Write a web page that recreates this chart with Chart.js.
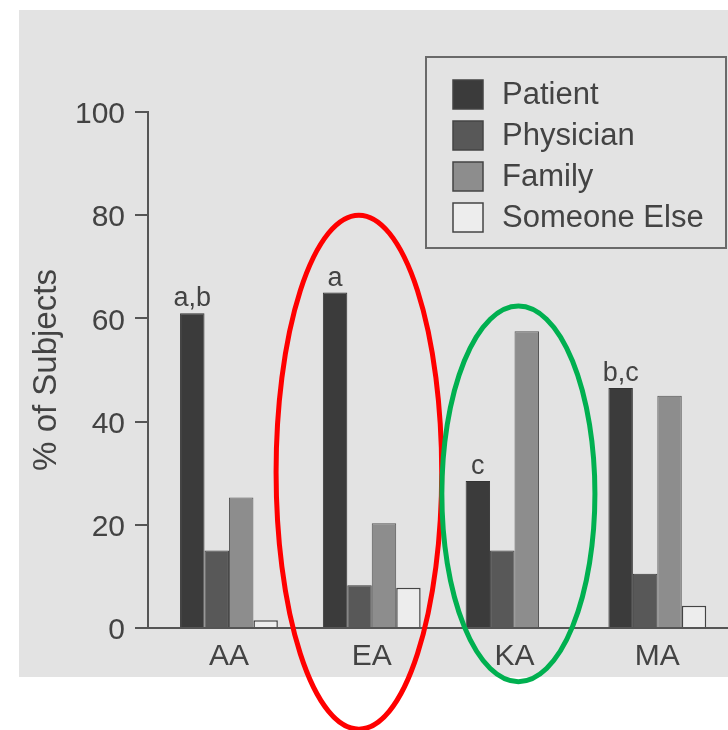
<!DOCTYPE html>
<html>
<head>
<meta charset="utf-8">
<script src="https://cdn.jsdelivr.net/npm/chart.js@4/dist/chart.umd.min.js"></script>
<style>
  html, body { margin: 0; padding: 0; background: #fff; }
  canvas { display: block; }
</style>
</head>
<body>
<canvas id="grafico" width="728" height="730"></canvas>
<script>
// data
var grupos = ["AA", "EA", "KA", "MA"];
var patient = [61, 65, 28.5, 46.5];
var physician = [15, 8.3, 15, 10.5];
var family = [25.3, 20.3, 57.5, 45];
var someoneElse = [1.5, 7.8, 0, 4.3];
var letras = ["a,b", "a", "c", "b,c"];
var yTicks = [0, 20, 40, 60, 80, 100];

var fonte = '"Liberation Sans", Arial, Helvetica, sans-serif';
var corTexto = "#434343";
var corEixo = "#555555";

function pontos(valores) {
    return valores.map(function (v, i) { return { x: i, y: v }; });
}

// highlight ellipses, in axis units (category index / % of subjects)
var elipses = [
    { cat: 1, dx: -0.09, rx: 0.58, yMid: 30.2, ry: 49.8, cor: "#ff0000" },
    { cat: 2, dx: 0.027, rx: 0.536, yMid: 26, ry: 36.4, cor: "#00b050" }
];

var fundo = {
    id: "fundo",
    beforeDraw: function (chart) {
        var ctx = chart.ctx;
        ctx.save();
        ctx.fillStyle = "#ffffff";
        ctx.fillRect(0, 0, chart.width, chart.height);
        ctx.fillStyle = "#e3e3e3";
        ctx.fillRect(19, 10, 709, 667);
        ctx.restore();
    }
};

var letrasPlugin = {
    id: "letras",
    afterDatasetsDraw: function (chart) {
        var ctx = chart.ctx;
        var meta = chart.getDatasetMeta(0);
        ctx.save();
        ctx.font = "27px " + fonte;
        ctx.fillStyle = corTexto;
        ctx.textAlign = "center";
        ctx.textBaseline = "alphabetic";
        meta.data.forEach(function (bar, i) {
            ctx.fillText(letras[i], bar.x, bar.y - 7);
        });
        ctx.restore();
    }
};

var legenda = {
    id: "legenda",
    afterDraw: function (chart) {
        var ctx = chart.ctx;
        ctx.save();
        ctx.strokeStyle = "#6a6a6a";
        ctx.lineWidth = 2;
        ctx.strokeRect(426, 57, 300, 191);
        ctx.font = "31px " + fonte;
        ctx.textBaseline = "middle";
        ctx.textAlign = "left";
        chart.data.datasets.forEach(function (ds, i) {
            var top = 80 + i * 41;
            ctx.fillStyle = ds.backgroundColor;
            ctx.fillRect(453, top, 30, 29);
            ctx.strokeStyle = "#444444";
            ctx.lineWidth = 1.5;
            ctx.strokeRect(453, top, 30, 29);
            ctx.fillStyle = corTexto;
            ctx.fillText(ds.label, 502, top + 15);
        });
        ctx.restore();
    }
};

var elipsesPlugin = {
    id: "elipses",
    afterDraw: function (chart) {
        var ctx = chart.ctx;
        var xs = chart.scales.x, ys = chart.scales.y;
        ctx.save();
        ctx.lineWidth = 5;
        elipses.forEach(function (e) {
            var cx = xs.getPixelForValue(e.cat + e.dx);
            var rx = xs.getPixelForValue(e.cat + e.dx + e.rx) - cx;
            var cy = ys.getPixelForValue(e.yMid);
            var ry = ys.getPixelForValue(e.yMid) - ys.getPixelForValue(e.yMid + e.ry);
            ctx.strokeStyle = e.cor;
            ctx.beginPath();
            ctx.ellipse(cx, cy, rx, ry, 0, 0, Math.PI * 2);
            ctx.stroke();
        });
        ctx.restore();
    }
};

var ctx = document.getElementById("grafico");

var chartGraph = new Chart(ctx, {
    type: "bar",
    data: {
        datasets: [
            { label: "Patient", data: pontos(patient), backgroundColor: "#3b3b3b", borderColor: "#333333", borderWidth: 1 },
            { label: "Physician", data: pontos(physician), backgroundColor: "#585858", borderColor: "#3a3a3a", borderWidth: 1 },
            { label: "Family", data: pontos(family), backgroundColor: "#8d8d8d", borderColor: "#555555", borderWidth: 1 },
            { label: "Someone Else", data: pontos(someoneElse), backgroundColor: "#ededed", borderColor: "#444444", borderWidth: 1.5 }
        ]
    },
    options: {
        responsive: false,
        animation: false,
        categoryPercentage: 0.685,
        barPercentage: 1.0,
        layout: { padding: { top: 112, right: 0, bottom: 0, left: 0 } },
        plugins: {
            legend: { display: false },
            tooltip: { enabled: false }
        },
        scales: {
            x: {
                type: "linear",
                offset: false,
                min: -0.567,
                max: 3.495,
                afterBuildTicks: function (scale) {
                    scale.ticks = grupos.map(function (g, i) { return { value: i }; });
                },
                afterFit: function (scale) { scale.height = 102; },
                grid: { display: false, drawTicks: false, offset: false },
                border: { display: true, color: corEixo, width: 2 },
                ticks: {
                    padding: 11,
                    color: corTexto,
                    font: { family: fonte, size: 30 },
                    callback: function (v) { return grupos[v]; }
                }
            },
            y: {
                min: 0,
                max: 100,
                afterBuildTicks: function (scale) {
                    scale.ticks = yTicks.map(function (v) { return { value: v }; });
                },
                afterFit: function (scale) { scale.width = 148; },
                grid: { display: true, drawOnChartArea: false, drawTicks: true, tickLength: 13, color: corEixo, lineWidth: 2 },
                border: { display: true, color: corEixo, width: 2 },
                ticks: {
                    padding: 10,
                    labelOffset: 3,
                    color: corTexto,
                    font: { family: fonte, size: 30 }
                },
                title: {
                    display: true,
                    text: "% of Subjects",
                    color: corTexto,
                    font: { family: fonte, size: 33 },
                    padding: { top: 27, bottom: 0 }
                }
            }
        }
    },
    plugins: [fundo, letrasPlugin, legenda, elipsesPlugin]
});
</script>
</body>
</html>
